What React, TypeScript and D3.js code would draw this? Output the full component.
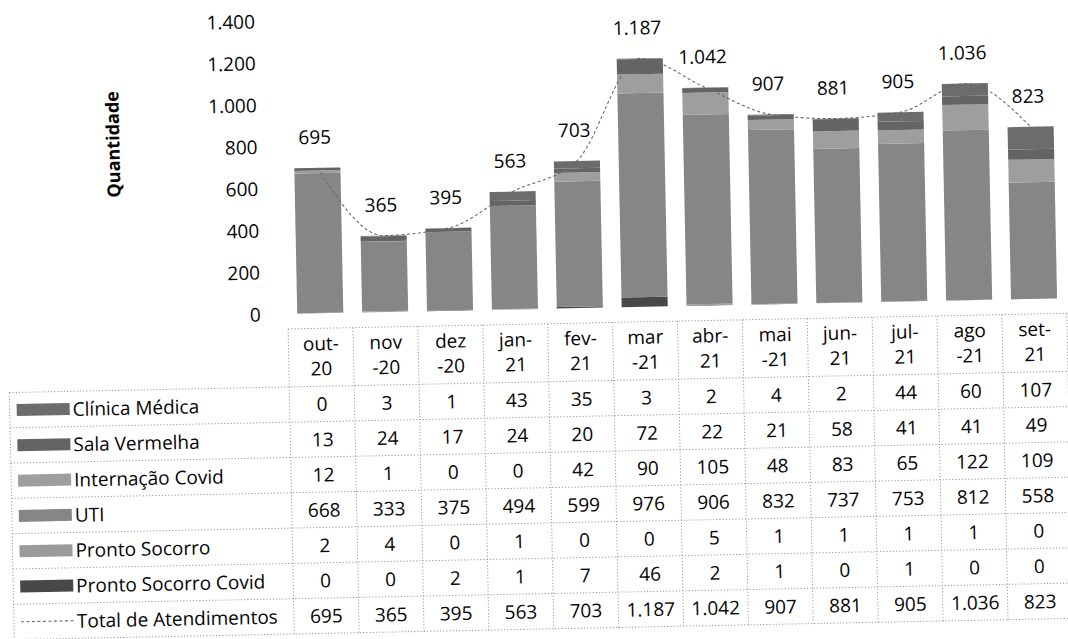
import React from "react";
import * as d3 from "d3";

const categories = ["out-20", "nov-20", "dez-20", "jan-21", "fev-21", "mar-21", "abr-21", "mai-21", "jun-21", "jul-21", "ago-21", "set-21"];
const headerLines = [["out-", "20"], ["nov", "-20"], ["dez", "-20"], ["jan-", "21"], ["fev-", "21"], ["mar", "-21"], ["abr-", "21"], ["mai", "-21"], ["jun-", "21"], ["jul-", "21"], ["ago", "-21"], ["set-", "21"]];

const clinicaMedica = [0, 3, 1, 43, 35, 3, 2, 4, 2, 44, 60, 107];
const salaVermelha = [13, 24, 17, 24, 20, 72, 22, 21, 58, 41, 41, 49];
const internacaoCovid = [12, 1, 0, 0, 42, 90, 105, 48, 83, 65, 122, 109];
const uti = [668, 333, 375, 494, 599, 976, 906, 832, 737, 753, 812, 558];
const prontoSocorro = [2, 4, 0, 1, 0, 0, 5, 1, 1, 1, 1, 0];
const prontoSocorroCovid = [0, 0, 2, 1, 7, 46, 2, 1, 0, 1, 0, 0];
const totalAtendimentos = [695, 365, 395, 563, 703, 1187, 1042, 907, 881, 905, 1036, 823];

const yTicks = [0, 200, 400, 600, 800, 1000, 1200, 1400];

const seriesNames = ["Clínica Médica", "Sala Vermelha", "Internação Covid", "UTI", "Pronto Socorro", "Pronto Socorro Covid"];
const seriesValues = [clinicaMedica, salaVermelha, internacaoCovid, uti, prontoSocorro, prontoSocorroCovid];
const seriesColors = ["#6c6c6c", "#646464", "#9e9e9e", "#868686", "#9a9a9a", "#484848"];
const totalName = "Total de Atendimentos";

const W = 1068;
const H = 639;
const FONT = "'Open Sans', 'Noto Sans', sans-serif";
const FS = 19;
const TXT = "#050505";

export default function App() {
  const fmt = d3.formatLocale({ decimal: ",", thousands: ".", grouping: [3], currency: ["", ""] }).format(",d");

  const colLeft = 288;
  const colW = 64.9;
  const x = d3.scaleBand<string>().domain(categories).range([colLeft, colLeft + colW * categories.length]).padding(0);
  const barW = x.bandwidth() * 0.71;
  const cx = (c: string) => (x(c) as number) + x.bandwidth() / 2;

  const y = d3.scaleLinear().domain([0, 1400]).range([309, 16]);

  const rows = categories.map((c, i) => {
    const o: any = { cat: c };
    seriesNames.forEach((n, k) => (o[n] = seriesValues[k][i]));
    return o;
  });
  const stackKeys = [...seriesNames].reverse();
  const stacked = d3.stack<any>().keys(stackKeys)(rows);

  const line = d3
    .line<number>()
    .x((_, i) => cx(categories[i]))
    .y((d) => y(d))
    .curve(d3.curveMonotoneX);

  const headerTop = 324;
  const rowTop = 382;
  const rowH = 35.3;
  const tableLeft = 8;
  const tableRight = colLeft + colW * categories.length;
  const nRows = seriesNames.length + 1;
  const tableBottom = rowTop + rowH * nRows;

  const gridStroke = "#9a9a9a";
  const dash = "1.2,2";

  return (
    <svg width={W} height={H} style={{ position: "absolute", left: 0, top: 0, background: "#fff" }} fontFamily={FONT}>
      <rect x={0} y={0} width={W} height={H} fill="#fff" />
      <g transform="rotate(-1.15 534 320)">
        <text transform={`translate(116,136) rotate(-90)`} textAnchor="middle" dominantBaseline="central" fontSize={18} fontWeight="bold" fill={TXT}>
          Quantidade
        </text>
        {yTicks.map((t) => (
          <text key={t} x={261} y={y(t)} textAnchor="end" dominantBaseline="central" fontSize={FS} fill={TXT}>
            {fmt(t)}
          </text>
        ))}
        {stacked.map((s) => (
          <g key={s.key} fill={seriesColors[seriesNames.indexOf(s.key)]}>
            {s.map((d, i) => (
              <rect key={i} x={cx(categories[i]) - barW / 2} y={y(d[1])} width={barW} height={Math.max(0, y(d[0]) - y(d[1]))} />
            ))}
          </g>
        ))}
        <path d={line(totalAtendimentos) || ""} fill="none" stroke="#6a6a6a" strokeWidth={1.1} strokeDasharray="3,2.5" />
        {totalAtendimentos.map((v, i) => (
          <text key={i} x={cx(categories[i]) - 2} y={y(v) - 31} textAnchor="middle" dominantBaseline="central" fontSize={FS} fill={TXT}>
            {fmt(v)}
          </text>
        ))}
        {categories.map((c, i) => (
          <g key={c}>
            {headerLines[i].map((l, j) => (
              <text key={j} x={cx(c)} y={headerTop + 15 + j * 25} textAnchor="middle" dominantBaseline="central" fontSize={FS} fill={TXT}>
                {l}
              </text>
            ))}
          </g>
        ))}
        <line x1={colLeft} x2={tableRight} y1={headerTop} y2={headerTop} stroke={gridStroke} strokeDasharray={dash} />
        {d3.range(nRows + 1).map((r) => (
          <line key={r} x1={tableLeft} x2={tableRight} y1={rowTop + r * rowH} y2={rowTop + r * rowH} stroke={gridStroke} strokeDasharray={dash} />
        ))}
        <line x1={tableLeft} x2={tableLeft} y1={rowTop} y2={tableBottom} stroke={gridStroke} strokeDasharray={dash} />
        {d3.range(categories.length + 1).map((k) => (
          <line key={k} x1={colLeft + k * colW} x2={colLeft + k * colW} y1={headerTop} y2={tableBottom} stroke={gridStroke} strokeDasharray={dash} />
        ))}
        {seriesNames.map((n, k) => {
          const cy = rowTop + (k + 0.5) * rowH;
          return (
            <g key={n}>
              <rect x={15} y={cy - 6} width={53} height={12} fill={seriesColors[k]} />
              <text x={71} y={cy} dominantBaseline="central" fontSize={FS} fill={TXT}>
                {n}
              </text>
              {seriesValues[k].map((v, i) => (
                <text key={i} x={cx(categories[i])} y={cy} textAnchor="middle" dominantBaseline="central" fontSize={FS} fill={TXT}>
                  {fmt(v)}
                </text>
              ))}
            </g>
          );
        })}
        {(() => {
          const cy = rowTop + (seriesNames.length + 0.5) * rowH;
          return (
            <g>
              <line x1={15} x2={68} y1={cy} y2={cy} stroke="#6a6a6a" strokeWidth={1.1} strokeDasharray="3,2.5" />
              <text x={71} y={cy} dominantBaseline="central" fontSize={FS} fill={TXT}>
                {totalName}
              </text>
              {totalAtendimentos.map((v, i) => (
                <text key={i} x={cx(categories[i])} y={cy} textAnchor="middle" dominantBaseline="central" fontSize={FS} fill={TXT}>
                  {fmt(v)}
                </text>
              ))}
            </g>
          );
        })()}
      </g>
    </svg>
  );
}
